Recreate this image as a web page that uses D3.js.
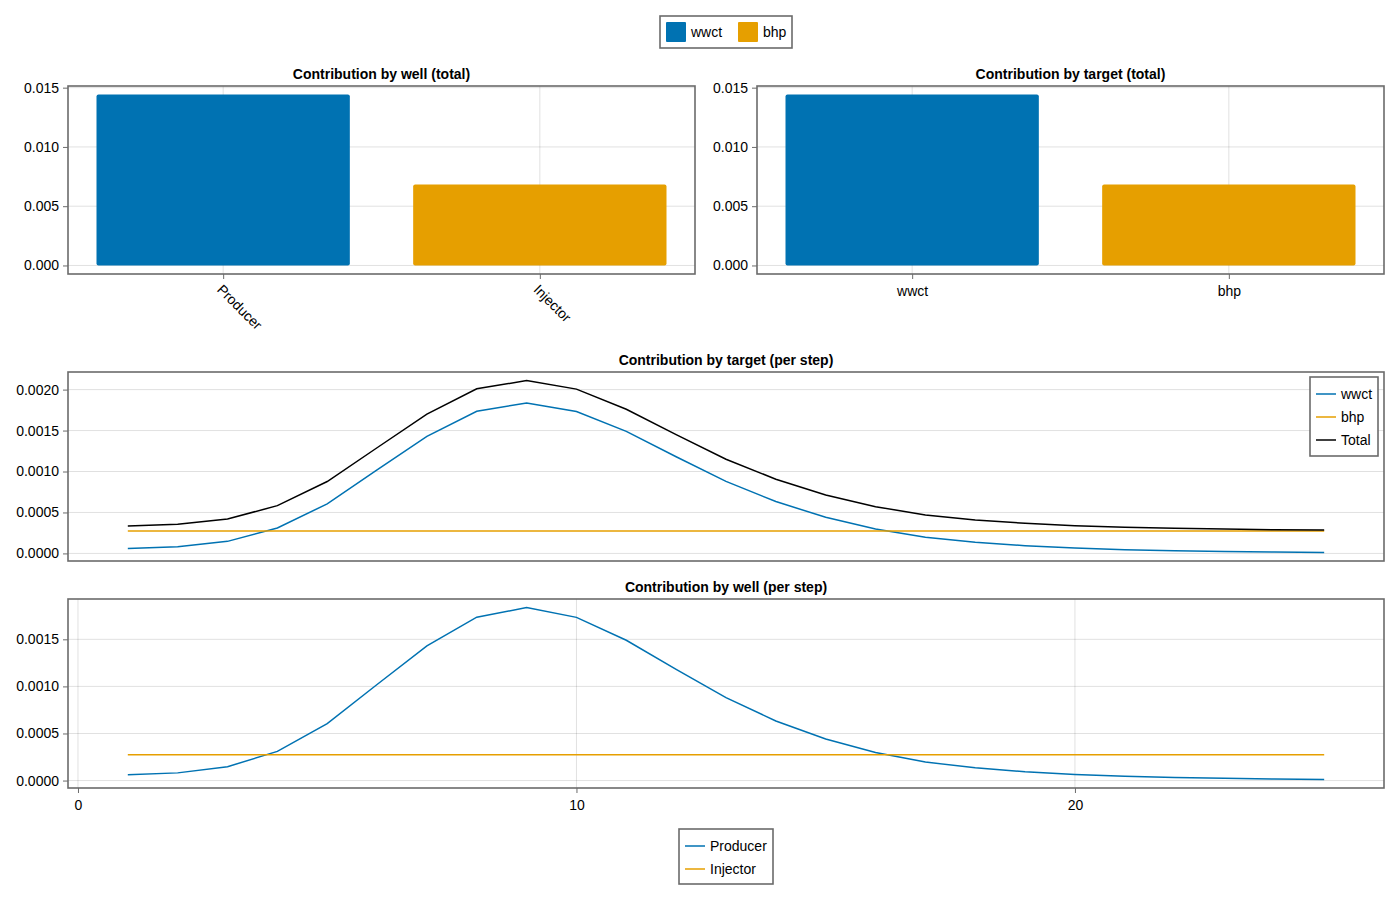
<!DOCTYPE html>
<html>
<head>
<meta charset="utf-8">
<script src="https://cdn.jsdelivr.net/npm/d3@7/dist/d3.min.js"></script>
<style>
  body { margin: 0; background: #fff; }
  svg text { font-family: "Liberation Sans", Arial, sans-serif; fill: #000; }
  .tick text { font-size: 14px; }
  .title { font-size: 14px; font-weight: bold; }
</style>
</head>
<body>
<svg id="chart" width="1400" height="900"></svg>
<script>
// values
var wells = ["Producer", "Injector"];
var targets = ["wwct", "bhp"];
var wellTotals = [0.01442, 0.00683];
var targetTotals = [0.01442, 0.00683];
var steps = d3.range(1, 26);
var wwct = [0.0000612, 0.0000816, 0.000147, 0.00031, 0.000605, 0.00102, 0.00143, 0.001735, 0.001837,
            0.001733, 0.00149, 0.00118, 0.00088, 0.000633, 0.000441, 0.000298, 0.000196, 0.000135,
            0.0000939, 0.0000653, 0.0000449, 0.0000327, 0.0000245, 0.0000163, 0.0000122];
var bhp = [0.000273, 0.000273, 0.000273, 0.000273, 0.000273, 0.000273, 0.000273, 0.000273, 0.000273,
           0.000273, 0.000273, 0.000273, 0.000273, 0.000273, 0.000273, 0.000273, 0.000273, 0.000273,
           0.000273, 0.000273, 0.000273, 0.000273, 0.000273, 0.000273, 0.000273];
var total = [0.000334, 0.000355, 0.00042, 0.000583, 0.000878, 0.00129, 0.0017, 0.00201, 0.00211,
             0.002006, 0.00176, 0.00145, 0.00115, 0.000906, 0.000714, 0.000571, 0.000469, 0.000408,
             0.000367, 0.000338, 0.000318, 0.000306, 0.000298, 0.000289, 0.000285];
var producer = wwct;
var injector = bhp;

var blue = "#0072B2", orange = "#E69F00";
var spine = "#6b6b6b", grid = "rgba(0,0,0,0.12)";

var svg = d3.select("#chart");

function pad(lo, hi) {
    var m = (hi - lo) * 0.05;
    return [lo - m, hi + m];
}

// one panel frame + grid + axes
function panel(box, xs, ys, opts) {
    var g = svg.append("g");
    var yAxis = d3.axisLeft(ys).tickValues(opts.yTicks).tickFormat(d3.format(opts.yFmt)).tickSizeOuter(0).tickSize(5).tickPadding(4);
    var ya = g.append("g").attr("class", "axis").attr("transform", "translate(" + box.x0 + ",0)").call(yAxis);
    ya.select(".domain").remove();
    ya.selectAll(".tick line").attr("stroke", spine);

    g.selectAll("line.hgrid").data(opts.yTicks).enter().append("line")
        .attr("class", "hgrid")
        .attr("x1", box.x0).attr("x2", box.x1)
        .attr("y1", function (d) { return ys(d); }).attr("y2", function (d) { return ys(d); })
        .attr("stroke", grid);

    if (opts.xTicks) {
        g.selectAll("line.vgrid").data(opts.xTicks).enter().append("line")
            .attr("class", "vgrid")
            .attr("x1", function (d) { return xs(d); }).attr("x2", function (d) { return xs(d); })
            .attr("y1", box.y0).attr("y2", box.y1)
            .attr("stroke", grid);
        var xAxis = d3.axisBottom(xs).tickValues(opts.xTicks).tickSizeOuter(0).tickSize(5).tickPadding(7)
            .tickFormat(opts.xFmt || d3.format("d"));
        var xa = g.append("g").attr("class", "axis").attr("transform", "translate(0," + box.y1 + ")").call(xAxis);
        xa.select(".domain").remove();
        xa.selectAll(".tick line").attr("stroke", spine);
        if (opts.rotate) {
            xa.selectAll(".tick text")
                .attr("text-anchor", "start")
                .attr("transform", "translate(-4,13) rotate(45)")
                .attr("dy", "0.35em").attr("y", 0).attr("x", 0);
        }
    }
    g.append("text").attr("class", "title")
        .attr("x", (box.x0 + box.x1) / 2).attr("y", box.y0 - 7)
        .attr("text-anchor", "middle").text(opts.title);
    return g;
}

function frame(box) {
    svg.append("rect")
        .attr("x", box.x0).attr("y", box.y0)
        .attr("width", box.x1 - box.x0).attr("height", box.y1 - box.y0)
        .attr("fill", "none").attr("stroke", spine).attr("stroke-width", 1.6);
}

// ---- top panels: bar charts ----
function barPanel(box, cats, vals, title, rotate) {
    var xs = d3.scaleLinear().domain(pad(0.6, cats.length + 0.4)).range([box.x0, box.x1]);
    var ys = d3.scaleLinear().domain(pad(0, d3.max(vals))).range([box.y1, box.y0]);
    var g = panel(box, xs, ys, {
        yTicks: [0, 0.005, 0.01, 0.015], yFmt: ".3f",
        xTicks: d3.range(1, cats.length + 1),
        xFmt: function (d) { return cats[d - 1]; },
        rotate: rotate, title: title
    });
    g.selectAll("rect.bar").data(vals).enter().append("rect")
        .attr("class", "bar")
        .attr("x", function (d, i) { return xs(i + 1 - 0.4); })
        .attr("width", function (d, i) { return xs(i + 1 + 0.4) - xs(i + 1 - 0.4); })
        .attr("y", function (d) { return ys(d); })
        .attr("height", function (d) { return ys(0) - ys(d); })
        .attr("rx", 2)
        .attr("fill", function (d, i) { return [blue, orange][i]; });
    frame(box);
}

barPanel({x0: 68, x1: 695, y0: 86, y1: 274}, wells, wellTotals, "Contribution by well (total)", true);
barPanel({x0: 757, x1: 1384, y0: 86, y1: 274}, targets, targetTotals, "Contribution by target (total)", false);

// ---- line panels ----
var xLine = d3.scaleLinear().domain(pad(1, 25)).range([68, 1384]);

function linePanel(box, series, title, yTicks, xTicks) {
    var all = [].concat.apply([], series.map(function (s) { return s.values; }));
    var ys = d3.scaleLinear().domain(pad(d3.min(all), d3.max(all))).range([box.y1, box.y0]);
    var g = panel(box, xLine, ys, {yTicks: yTicks, yFmt: ".4f", xTicks: xTicks, title: title});
    var line = d3.line().x(function (d, i) { return xLine(steps[i]); }).y(function (d) { return ys(d); });
    series.forEach(function (s) {
        g.append("path").datum(s.values)
            .attr("d", line).attr("fill", "none")
            .attr("stroke", s.color).attr("stroke-width", 1.5);
    });
    frame(box);
}

linePanel({x0: 68, x1: 1384, y0: 372, y1: 561}, [
    {name: "wwct", values: wwct, color: blue},
    {name: "bhp", values: bhp, color: orange},
    {name: "Total", values: total, color: "#000"}
], "Contribution by target (per step)", [0, 0.0005, 0.001, 0.0015, 0.002], null);

linePanel({x0: 68, x1: 1384, y0: 599, y1: 788}, [
    {name: "Producer", values: producer, color: blue},
    {name: "Injector", values: injector, color: orange}
], "Contribution by well (per step)", [0, 0.0005, 0.001, 0.0015], [0, 10, 20]);

// ---- legends ----
function legendBox(x, y, w, h) {
    svg.append("rect").attr("x", x).attr("y", y).attr("width", w).attr("height", h)
        .attr("fill", "#fff").attr("stroke", spine).attr("stroke-width", 1.6);
}

// top: patches, horizontal
legendBox(660, 16, 132, 32);
var topItems = [{name: "wwct", color: blue, x: 666}, {name: "bhp", color: orange, x: 738}];
var tl = svg.selectAll("g.tleg").data(topItems).enter().append("g").attr("class", "tleg")
    .attr("transform", function (d) { return "translate(" + d.x + ",22)"; });
tl.append("rect").attr("width", 20).attr("height", 20).attr("rx", 1).attr("fill", function (d) { return d.color; });
tl.append("text").attr("x", 25).attr("y", 10).attr("dy", "0.35em").style("font-size", "14px")
    .text(function (d) { return d.name; });

function lineLegend(x, y, w, h, items) {
    legendBox(x, y, w, h);
    var lg = svg.append("g").attr("transform", "translate(" + x + "," + y + ")");
    var it = lg.selectAll("g").data(items).enter().append("g")
        .attr("transform", function (d, i) { return "translate(6," + (17 + i * 23) + ")"; });
    it.append("line").attr("x1", 0).attr("x2", 20).attr("stroke", function (d) { return d.color; }).attr("stroke-width", 1.5);
    it.append("text").attr("x", 25).attr("dy", "0.35em").style("font-size", "14px").text(function (d) { return d.name; });
}

lineLegend(1310, 377, 68, 79, [
    {name: "wwct", color: blue}, {name: "bhp", color: orange}, {name: "Total", color: "#000"}
]);
lineLegend(679, 829, 94, 55, [
    {name: "Producer", color: blue}, {name: "Injector", color: orange}
]);
</script>
</body>
</html>
